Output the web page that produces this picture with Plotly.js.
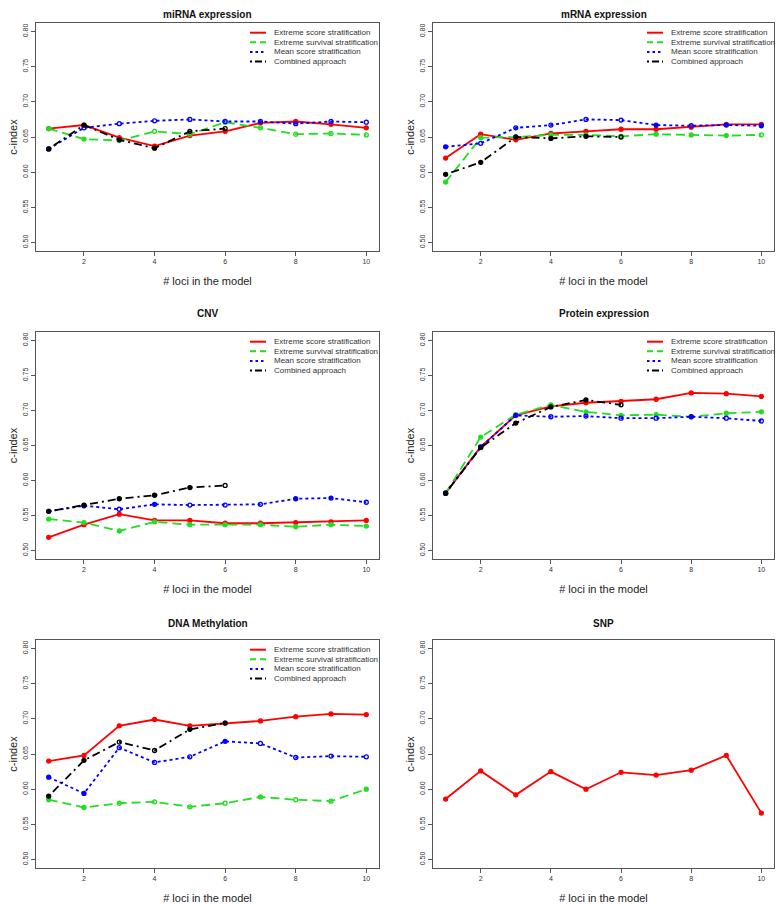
<!DOCTYPE html>
<html>
<head>
<meta charset="utf-8">
<script src="https://cdn.plot.ly/plotly-3.0.1.min.js"></script>
<style>
  body { margin: 0; background: #fff; }
  #chart { width: 778px; height: 904px; }
</style>
</head>
<body>
<div id="chart"></div>
<script>
// number of loci in the model
var loci = [1, 2, 3, 4, 5, 6, 7, 8, 9, 10];
var seriesNames = ["Extreme score stratification", "Extreme survival stratification",
                   "Mean score stratification", "Combined approach"];

// c-index values
var mirnaScore    = [0.662, 0.667, 0.649, 0.637, 0.652, 0.658, 0.670, 0.672, 0.668, 0.663];
var mirnaSurvival = [0.662, 0.647, 0.645, 0.658, 0.654, 0.671, 0.663, 0.654, 0.655, 0.653];
var mirnaMean     = [0.633, 0.663, 0.669, 0.673, 0.675, 0.672, 0.672, 0.669, 0.672, 0.671];
var mirnaCombined = [0.633, 0.667, 0.646, 0.634, 0.658, 0.662];

var mrnaScore     = [0.620, 0.654, 0.646, 0.655, 0.658, 0.661, 0.661, 0.664, 0.668, 0.668];
var mrnaSurvival  = [0.586, 0.649, 0.650, 0.653, 0.653, 0.651, 0.654, 0.653, 0.652, 0.653];
var mrnaMean      = [0.636, 0.641, 0.663, 0.667, 0.675, 0.674, 0.667, 0.666, 0.667, 0.666];
var mrnaCombined  = [0.597, 0.614, 0.650, 0.648, 0.651, 0.650];

var cnvScore      = [0.519, 0.537, 0.552, 0.543, 0.543, 0.539, 0.539, 0.540, 0.541, 0.543];
var cnvSurvival   = [0.545, 0.540, 0.528, 0.541, 0.537, 0.537, 0.537, 0.534, 0.537, 0.535];
var cnvMean       = [0.556, 0.564, 0.559, 0.566, 0.565, 0.565, 0.566, 0.574, 0.575, 0.569];
var cnvCombined   = [0.556, 0.565, 0.574, 0.579, 0.590, 0.593];

var protScore     = [0.582, 0.648, 0.693, 0.706, 0.711, 0.713, 0.716, 0.725, 0.724, 0.720];
var protSurvival  = [0.582, 0.662, 0.694, 0.708, 0.698, 0.693, 0.694, 0.691, 0.696, 0.698];
var protMean      = [0.582, 0.648, 0.693, 0.691, 0.692, 0.689, 0.689, 0.691, 0.689, 0.685];
var protCombined  = [0.582, 0.647, 0.682, 0.705, 0.715, 0.708];

var methScore     = [0.640, 0.648, 0.690, 0.699, 0.690, 0.694, 0.697, 0.703, 0.707, 0.706];
var methSurvival  = [0.585, 0.574, 0.580, 0.582, 0.575, 0.580, 0.589, 0.585, 0.583, 0.600];
var methMean      = [0.617, 0.594, 0.659, 0.638, 0.646, 0.668, 0.665, 0.645, 0.647, 0.646];
var methCombined  = [0.590, 0.641, 0.667, 0.655, 0.685, 0.694];

var snpScore      = [0.586, 0.626, 0.592, 0.625, 0.600, 0.624, 0.620, 0.627, 0.648, 0.566];

// loci drawn as open circles (per series: score, survival, mean, combined)
var mirnaOpen = [[], [3, 4, 5, 6, 7, 8, 9, 10], [2, 3, 4, 5, 6, 7, 8, 9, 10], [5, 6]];
var mrnaOpen  = [[], [10], [2, 3, 4, 5, 6, 8], [6]];
var cnvOpen   = [[], [], [2, 3, 5, 6, 7, 10], [6]];
var protOpen  = [[], [], [4, 5, 6, 7, 9, 10], [6]];
var methOpen  = [[], [3, 4, 5, 6, 8, 9], [3, 4, 5, 7, 8, 9, 10], [3, 4]];
var snpOpen   = [[]];

var panels = [
  { title: "miRNA expression",   series: [mirnaScore, mirnaSurvival, mirnaMean, mirnaCombined], open: mirnaOpen, legend: true },
  { title: "mRNA expression",    series: [mrnaScore, mrnaSurvival, mrnaMean, mrnaCombined],     open: mrnaOpen,  legend: true },
  { title: "CNV",                series: [cnvScore, cnvSurvival, cnvMean, cnvCombined],         open: cnvOpen,   legend: true },
  { title: "Protein expression", series: [protScore, protSurvival, protMean, protCombined],     open: protOpen,  legend: true },
  { title: "DNA Methylation",    series: [methScore, methSurvival, methMean, methCombined],     open: methOpen,  legend: true },
  { title: "SNP",                series: [snpScore],                                            open: snpOpen,   legend: false }
];

var colors = ["#ff0000", "#22dd22", "#0000ff", "#000000"];
var dashes = ["solid", "9px,5px", "3px,3px", "2px,4px,8px,4px"];
var keyDashes = ["solid", "6px,4px", "2.5px,3px", "2px,3px,7px,3px"];

// pixel geometry of the panels
var W = 778, H = 904;
var colLeft = [36, 433], colRight = [379, 774];
var rowTop = [23, 332, 640], rowBottom = [251, 559, 868];
var titleY = [15, 314, 623];
var font = "Liberation Sans, Arial, sans-serif";

function px(x) { return x / W; }
function py(y) { return 1 - y / H; }

var traces = [];
var layout = {
  width: W, height: H,
  margin: { l: 0, r: 0, t: 0, b: 0 },
  paper_bgcolor: "#fff",
  plot_bgcolor: "#fff",
  showlegend: false,
  font: { family: font, color: "#333" },
  annotations: [],
  shapes: []
};

panels.forEach(function (p, i) {
  var col = i % 2, row = Math.floor(i / 2);
  var xa = "x" + (i ? i + 1 : ""), ya = "y" + (i ? i + 1 : "");
  var L = colLeft[col], R = colRight[col], T = rowTop[row], B = rowBottom[row];

  layout["xaxis" + (i ? i + 1 : "")] = {
    domain: [px(L), px(R)], anchor: ya,
    range: [0.64, 10.36], tick0: 2, dtick: 2,
    showgrid: false, zeroline: false,
    showline: true, mirror: true, linecolor: "#555", linewidth: 1,
    ticks: "outside", ticklen: 4, tickcolor: "#555",
    tickfont: { size: 7, color: "#333" },
    title: { text: "# loci in the model", font: { size: 11, color: "#222" }, standoff: 12 }
  };
  layout["yaxis" + (i ? i + 1 : "")] = {
    domain: [py(B), py(T)], anchor: xa,
    range: [0.488, 0.812], tick0: 0.5, dtick: 0.05, tickformat: ".2f",
    showgrid: false, zeroline: false,
    showline: true, mirror: true, linecolor: "#555", linewidth: 1,
    ticks: "outside", ticklen: 4, tickcolor: "#555", tickangle: -90,
    tickfont: { size: 7, color: "#333" },
    title: { text: "c-index", font: { size: 11, color: "#222" }, standoff: 2 }
  };

  layout.annotations.push({
    xref: "paper", yref: "paper", x: px((L + R) / 2), y: py(titleY[row]),
    xanchor: "center", yanchor: "middle", showarrow: false,
    text: "<b>" + p.title + "</b>", font: { size: 10, color: "#111" }
  });

  p.series.forEach(function (vals, k) {
    var symbols = vals.map(function (v, j) {
      return p.open[k].indexOf(loci[j]) >= 0 ? "circle-open" : "circle";
    });
    traces.push({
      x: loci.slice(0, vals.length),
      y: vals,
      xaxis: xa, yaxis: ya,
      type: "scatter",
      mode: "lines+markers",
      name: seriesNames[k],
      line: { color: colors[k], width: 1.8, dash: dashes[k] },
      marker: { size: 4, color: colors[k], symbol: symbols, line: { color: colors[k], width: 1.3 } }
    });
  });

  if (p.legend) {
    seriesNames.forEach(function (name, k) {
      var yy = T + 9.7 + k * 9.6;
      layout.shapes.push({
        type: "line", xref: "paper", yref: "paper",
        x0: px(L + 214), x1: px(L + 230), y0: py(yy), y1: py(yy),
        line: { color: colors[k], width: 2, dash: keyDashes[k] }
      });
      layout.annotations.push({
        xref: "paper", yref: "paper", x: px(L + 236), y: py(yy),
        xanchor: "left", yanchor: "middle", showarrow: false,
        text: name, font: { size: 8, color: "#333" }
      });
    });
  }
});

Plotly.newPlot("chart", traces, layout, { staticPlot: true });
</script>
</body>
</html>
